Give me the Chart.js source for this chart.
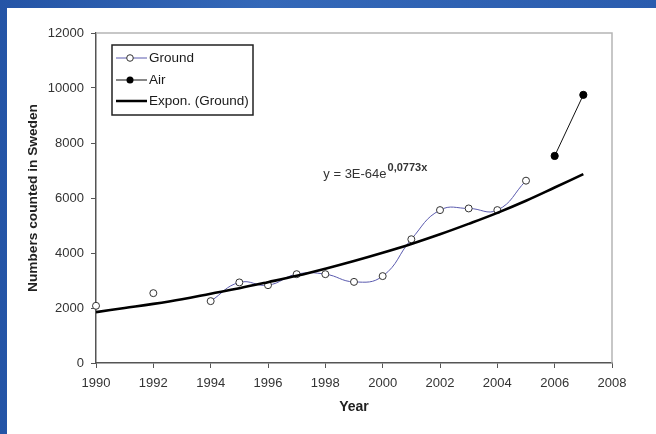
<!DOCTYPE html>
<html><head><meta charset="utf-8">
<script src="https://cdn.jsdelivr.net/npm/chart.js@4.4.0/dist/chart.umd.min.js"></script>
<style>
html,body{margin:0;padding:0;width:656px;height:434px;overflow:hidden;background:linear-gradient(90deg,#2454a6,#3468b8 40%,#2a5cae);}
#bg{position:absolute;left:7px;top:8px;right:0;bottom:0;background:#fff;}
#wrap{position:absolute;left:0;top:0;width:656px;height:434px;}
</style></head><body>
<div id="bg"></div>
<div id="wrap"><canvas id="c" width="656" height="434"></canvas></div>
<script>
const years  = [1990,1991,1992,1993,1994,1995,1996,1997,1998,1999,2000,2001,2002,2003,2004,2005,2006,2007];
const ground = [2080,null,2540,null,2250,2930,2830,3230,3230,2950,3160,4500,5560,5620,5560,6630,null,null];
const air    = [null,null,null,null,null,null,null,null,null,null,null,null,null,null,null,null,7530,9750];
const trend  = [1850,2000,2150,2320,2520,2720,2940,3170,3430,3710,4010,4330,4680,5060,5460,5900,6380,6870];
const xTicks = [1990,1992,1994,1996,1998,2000,2002,2004,2006,2008];
const yTicks = [0,2000,4000,6000,8000,10000,12000];
const labels = ['Ground','Air','Expon. (Ground)'];
const equation = {base:'y = 3E-64e', exp:'0,0773x', x:1997.93, y:6730};

const pts = arr => years.map((x,i)=>({x:x, y:arr[i]}));
const FONT = "'Liberation Sans', Arial, sans-serif";
const GROUND_COL = '#5a5aae';

const deco = {
  id:'deco',
  beforeDatasetsDraw(chart){
    const {ctx, chartArea:a} = chart;
    ctx.save();
    ctx.strokeStyle='#b5b5b5'; ctx.lineWidth=1.5;
    ctx.beginPath(); ctx.moveTo(a.left,a.top); ctx.lineTo(a.right,a.top); ctx.lineTo(a.right,a.bottom); ctx.stroke();
    ctx.restore();
  },
  afterDraw(chart){
    const {ctx, chartArea:a, scales} = chart;
    ctx.save();
    // legend box
    const bx=a.left+16, by=a.top+12, bw=141, bh=70;
    ctx.fillStyle='#fff'; ctx.fillRect(bx,by,bw,bh);
    ctx.strokeStyle='#222'; ctx.lineWidth=1.5; ctx.strokeRect(bx,by,bw,bh);
    const rows=[by+13, by+35, by+56];
    const lx0=bx+4, lx1=bx+35, mx=bx+18, tx=bx+37;
    ctx.font='13.5px '+FONT; ctx.textBaseline='middle'; ctx.fillStyle='#1a1a1a';
    // Ground
    ctx.strokeStyle=GROUND_COL; ctx.lineWidth=1;
    ctx.beginPath(); ctx.moveTo(lx0,rows[0]); ctx.lineTo(lx1,rows[0]); ctx.stroke();
    ctx.beginPath(); ctx.arc(mx,rows[0],3.3,0,Math.PI*2); ctx.fillStyle='#fff'; ctx.fill(); ctx.strokeStyle='#333'; ctx.stroke();
    // Air
    ctx.strokeStyle='#111'; ctx.lineWidth=1;
    ctx.beginPath(); ctx.moveTo(lx0,rows[1]); ctx.lineTo(lx1,rows[1]); ctx.stroke();
    ctx.beginPath(); ctx.arc(mx,rows[1],3.5,0,Math.PI*2); ctx.fillStyle='#000'; ctx.fill();
    // Trend
    ctx.strokeStyle='#000'; ctx.lineWidth=2.5;
    ctx.beginPath(); ctx.moveTo(lx0,rows[2]); ctx.lineTo(lx1,rows[2]); ctx.stroke();
    ctx.fillStyle='#1a1a1a';
    labels.forEach((t,i)=>ctx.fillText(t,tx,rows[i]+0.5));
    // equation
    const ex=scales.x.getPixelForValue(equation.x), ey=scales.y.getPixelForValue(equation.y);
    ctx.textBaseline='alphabetic'; ctx.fillStyle='#333';
    ctx.font='13px '+FONT; ctx.fillText(equation.base,ex,ey);
    const w=ctx.measureText(equation.base).width;
    ctx.font='bold 11px '+FONT; ctx.fillText(equation.exp,ex+w+1,ey-7);
    ctx.restore();
  }
};

new Chart(document.getElementById('c'), {
  type:'line',
  data:{
    datasets:[
      {label:labels[0], data:pts(ground), borderColor:GROUND_COL, borderWidth:1, tension:0.45,
       pointRadius:3.5, pointBackgroundColor:'#fff', pointBorderColor:'#333', pointBorderWidth:1, spanGaps:false, clip:false, order:1},
      {label:labels[1], data:pts(air), borderColor:'#111', borderWidth:1, tension:0,
       pointRadius:3.6, pointBackgroundColor:'#000', pointBorderColor:'#000', spanGaps:false, order:2},
      {label:labels[2], data:pts(trend), borderColor:'#000', borderWidth:2.6, pointRadius:0, tension:0.4, order:0}
    ]
  },
  options:{
    responsive:false, animation:false, devicePixelRatio:1,
    layout:{padding:{left:0, top:33, right:44, bottom:0}},
    plugins:{legend:{display:false}, tooltip:{enabled:false}},
    scales:{
      x:{type:'linear', min:1990, max:2008,
         afterBuildTicks:s=>{s.ticks=xTicks.map(v=>({value:v}));},
         afterFit:s=>{s.height=71;},
         grid:{drawOnChartArea:false, drawTicks:true, tickLength:5, color:'#555'},
         border:{color:'#555', width:1.5},
         ticks:{font:{family:FONT,size:13}, color:'#333', padding:8, maxRotation:0, callback:v=>String(v)},
         title:{display:true, text:'Year', font:{family:FONT,size:14,weight:'bold'}, color:'#222', padding:{top:0,bottom:18}}},
      y:{min:0, max:12000,
         afterBuildTicks:s=>{s.ticks=yTicks.map(v=>({value:v}));},
         afterFit:s=>{s.width=96;},
         grid:{drawOnChartArea:false, drawTicks:true, tickLength:5, color:'#555'},
         border:{color:'#555', width:1.5},
         ticks:{font:{family:FONT,size:13}, color:'#333', padding:7, callback:v=>String(v)},
         title:{display:true, text:'Numbers counted in Sweden', font:{family:FONT,size:13.7,weight:'bold'}, color:'#222', padding:{top:25,bottom:0}}}
    }
  },
  plugins:[deco]
});
</script>
</body></html>
